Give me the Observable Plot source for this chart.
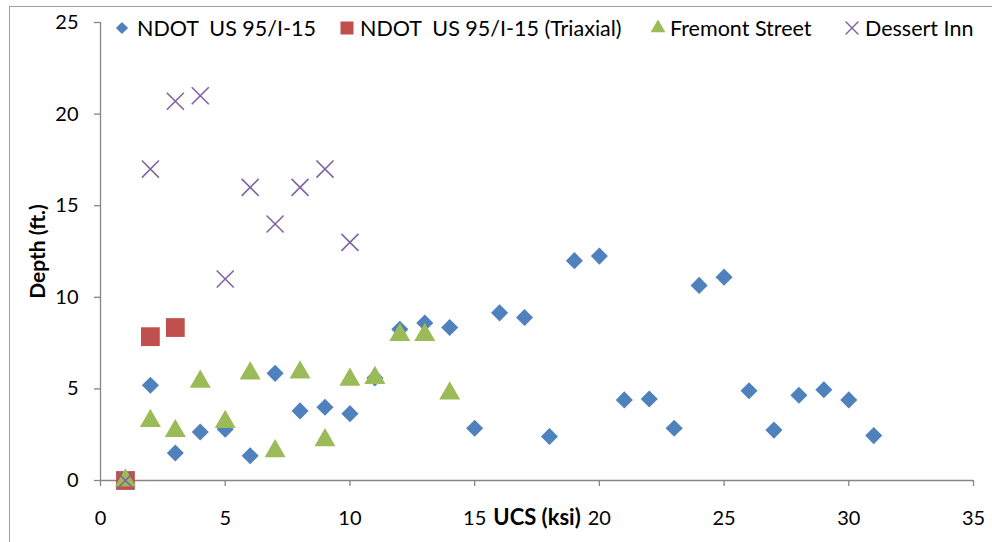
<!DOCTYPE html>
<html>
<head>
<meta charset="utf-8">
<script src="https://cdn.jsdelivr.net/npm/d3@7"></script>
<script src="https://cdn.jsdelivr.net/npm/@observablehq/plot@0.6"></script>
<style>
  html, body { margin: 0; padding: 0; background: #fff; }
  #wrap { position: relative; width: 992px; height: 542px; overflow: hidden; font-family: Lato, "Open Sans", sans-serif; }
  #frame { position: absolute; left: 9px; top: 6px; width: 1200px; height: 1200px; border: 1px solid #a0a0a0; box-sizing: border-box; pointer-events: none; }
  #legend { position: absolute; top: 0; left: 0; width: 992px; height: 50px; font-size: 21.5px; color: #000; white-space: pre; }
  #legend .sym { position: absolute; top: 20px; }
  #legend .lbl { position: absolute; top: 15px; line-height: 26px; }
  svg text { font-family: Lato, "Open Sans", sans-serif; }
</style>
</head>
<body>
<div id="wrap">
  <div id="frame"></div>
  <div id="chart"></div>
  <div id="legend"></div>
</div>
<script>
// UCS (ksi) values and depths (ft.) per series
const seriesNames = ["NDOT  US 95/I-15", "NDOT  US 95/I-15 (Triaxial)", "Fremont Street", "Dessert Inn"];
const seriesColors = ["#4F81BD", "#C0504D", "#9BBB59", "#8064A2"];

const ndotUcs   = [1, 2, 3, 4, 5, 6, 7, 8, 9, 10, 11, 12, 13, 14, 15, 16, 17, 18, 19, 20, 21, 22, 23, 24, 25, 26, 27, 28, 29, 30, 31];
const ndotDepth = [0, 5.2, 1.5, 2.65, 2.8, 1.35, 5.85, 3.8, 4.0, 3.65, 5.6, 8.25, 8.6, 8.35, 2.85, 9.15, 8.9, 2.4, 12.0, 12.25, 4.4, 4.45, 2.85, 10.65, 11.1, 4.9, 2.75, 4.65, 4.95, 4.4, 2.45];

const triaxUcs   = [1, 2, 3];
const triaxDepth = [0, 7.85, 8.35];

const fremontUcs   = [1, 2, 3, 4, 5, 6, 7, 8, 9, 10, 11, 12, 13, 14];
const fremontDepth = [0, 3.25, 2.7, 5.4, 3.2, 5.85, 1.6, 5.9, 2.2, 5.5, 5.6, 7.95, 7.95, 4.75];

const dessertUcs   = [1, 2, 3, 4, 5, 6, 7, 8, 9, 10];
const dessertDepth = [0, 17, 20.7, 21, 11, 16, 14, 16, 17, 13];

const xTicks = [0, 5, 10, 15, 20, 25, 30, 35];
const yTicks = [0, 5, 10, 15, 20, 25];

const toRows = (xs, ys) => xs.map((x, i) => ({x, y: ys[i]}));
const ndot = toRows(ndotUcs, ndotDepth);
const triax = toRows(triaxUcs, triaxDepth);
const fremont = toRows(fremontUcs, fremontDepth);
const dessert = toRows(dessertUcs, dessertDepth);

const axisColor = "#868686";

const chart = Plot.plot({
  width: 992,
  height: 542,
  marginLeft: 100,
  marginRight: 19,
  marginTop: 22,
  marginBottom: 62,
  style: {fontFamily: "Lato, 'Open Sans', sans-serif", background: "transparent", overflow: "visible"},
  x: {domain: [0, 35]},
  y: {domain: [0, 25]},
  marks: [
    Plot.ruleY([0], {stroke: axisColor, strokeWidth: 1.3}),
    Plot.ruleX([0], {stroke: axisColor, strokeWidth: 1.3}),
    Plot.axisX({ticks: xTicks, tickSize: 6, tickPadding: 24, fontSize: 20, stroke: axisColor, strokeWidth: 1.3, strokeOpacity: 1, color: "#000", label: null}),
    Plot.axisY({ticks: yTicks, tickSize: 6, tickPadding: 16, fontSize: 20, stroke: axisColor, strokeWidth: 1.3, strokeOpacity: 1, color: "#000", label: null}),
    Plot.dot(ndot, {x: "x", y: "y", symbol: "diamond2", r: 7.7, fill: seriesColors[0], stroke: null}),
    Plot.dot(triax, {x: "x", y: "y", symbol: "square", r: 10.6, fill: seriesColors[1], stroke: null}),
    Plot.dot(fremont, {x: "x", y: "y", symbol: "triangle", r: 7.8, fill: seriesColors[2], stroke: null}),
    Plot.dot(dessert, {x: "x", y: "y", symbol: "times", r: 7.8, stroke: seriesColors[3], strokeWidth: 1.6}),
    Plot.text(["Depth (ft.)"], {frameAnchor: "left", textAnchor: "middle", dx: -62, rotate: -90, fontSize: 21, fontWeight: "bold", fill: "#000"}),
    Plot.text(["UCS (ksi)"], {frameAnchor: "bottom", textAnchor: "middle", dy: 44, fontSize: 22, fontWeight: "bold", fill: "#000"})
  ]
});
document.getElementById("chart").appendChild(chart);

// Legend
const legend = d3.select("#legend");
const symbolTypes = [d3.symbolDiamond2, d3.symbolSquare, d3.symbolTriangle, d3.symbolTimes];
const symbolSizes = [95, 170, 95, 110];
const symbolLeft = [114, 339, 650, 844];
const labelLeft = [137, 360, 670, 865];
seriesNames.forEach((name, i) => {
  const s = legend.append("svg").attr("class", "sym")
    .style("left", symbolLeft[i] + "px")
    .attr("width", 16).attr("height", 16);
  const path = s.append("path")
    .attr("transform", "translate(8,8)")
    .attr("d", d3.symbol(symbolTypes[i], symbolSizes[i])());
  if (i === 3) path.attr("fill", "none").attr("stroke", seriesColors[i]).attr("stroke-width", 1.4);
  else path.attr("fill", seriesColors[i]);
  legend.append("span").attr("class", "lbl").style("left", labelLeft[i] + "px").text(name);
});
</script>
</body>
</html>
